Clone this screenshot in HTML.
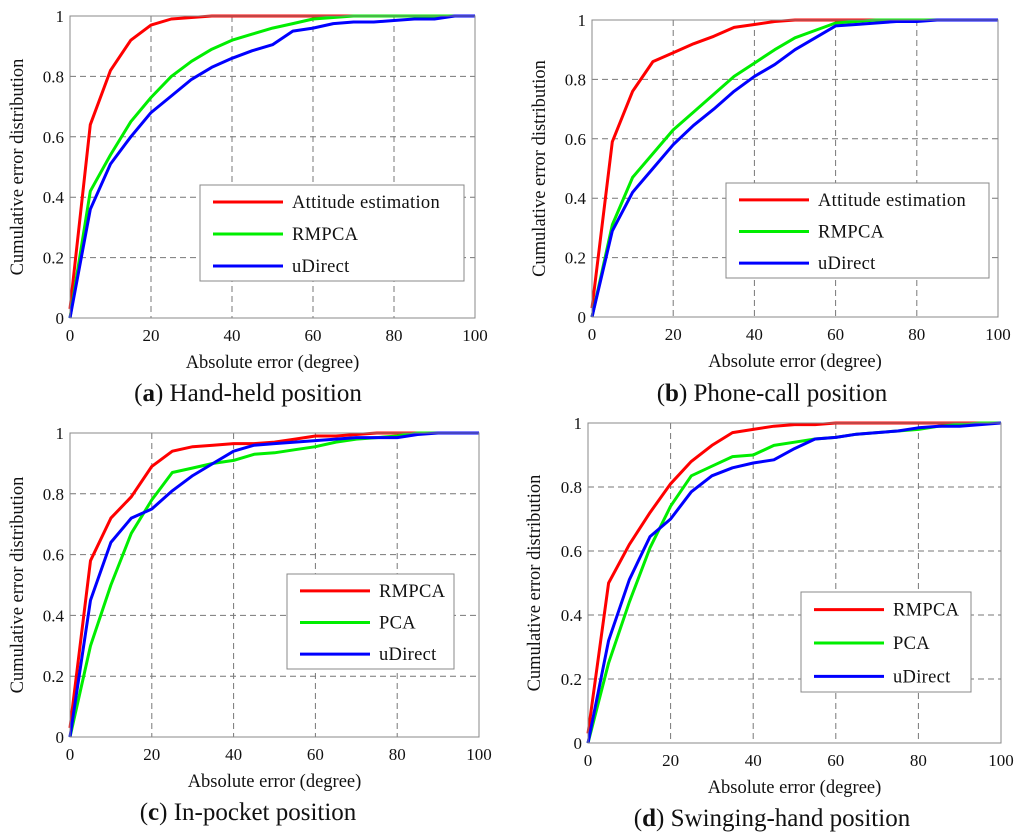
<!DOCTYPE html>
<html><head><meta charset="utf-8"><style>
html,body{margin:0;padding:0;background:#fff;width:1024px;height:840px;overflow:hidden}
svg{display:block;font-family:"Liberation Serif",serif}
</style></head><body>
<svg id="fig" width="1024" height="840"></svg>
<script>
const xCats=[0,5,10,15,20,25,30,35,40,45,50,55,60,65,70,75,80,85,90,95,100];
const xTicks=[0,20,40,60,80,100];
const yTicks=[0,0.2,0.4,0.6,0.8,1];
const yTickLabels=["0","0.2","0.4","0.6","0.8","1"];
const aAttitude=[0.03,0.64,0.82,0.92,0.97,0.99,0.995,1,1,1,1,1,1,1,1,1,1,1,1,1,1];
const aRMPCA=[0,0.42,0.54,0.65,0.73,0.80,0.85,0.89,0.92,0.94,0.96,0.975,0.99,0.995,1,1,1,1,1,1,1];
const aUDirect=[0,0.36,0.51,0.60,0.68,0.735,0.79,0.83,0.86,0.885,0.905,0.95,0.96,0.975,0.98,0.98,0.985,0.99,0.99,1,1];
const bAttitude=[0.03,0.59,0.76,0.86,0.89,0.92,0.945,0.975,0.985,0.995,1,1,1,1,1,1,1,1,1,1,1];
const bRMPCA=[0,0.31,0.47,0.55,0.63,0.69,0.75,0.81,0.855,0.90,0.94,0.965,0.99,0.995,1,1,1,1,1,1,1];
const bUDirect=[0,0.29,0.42,0.50,0.58,0.645,0.70,0.76,0.81,0.85,0.90,0.94,0.98,0.985,0.99,0.995,0.995,1,1,1,1];
const cRMPCA=[0.03,0.58,0.72,0.79,0.89,0.94,0.955,0.96,0.965,0.965,0.97,0.98,0.99,0.99,0.995,1,1,1,1,1,1];
const cPCA=[0,0.30,0.50,0.67,0.78,0.87,0.885,0.90,0.91,0.93,0.935,0.945,0.955,0.97,0.98,0.985,0.99,1,1,1,1];
const cUDirect=[0,0.45,0.64,0.72,0.75,0.81,0.86,0.90,0.94,0.96,0.965,0.97,0.975,0.98,0.985,0.985,0.985,0.995,1,1,1];
const dRMPCA=[0.03,0.50,0.62,0.72,0.81,0.88,0.93,0.97,0.98,0.99,0.995,0.995,1,1,1,1,1,1,1,1,1];
const dPCA=[0,0.25,0.44,0.61,0.74,0.835,0.865,0.895,0.90,0.93,0.94,0.95,0.955,0.965,0.97,0.975,0.98,0.99,0.995,1,1];
const dUDirect=[0,0.32,0.51,0.645,0.70,0.785,0.835,0.86,0.875,0.885,0.92,0.95,0.955,0.965,0.97,0.975,0.985,0.99,0.99,0.995,1];

const NS="http://www.w3.org/2000/svg";
const svg=document.getElementById('fig');
function mk(tag,attrs,parent,text){const e=document.createElementNS(NS,tag);for(const k in attrs)e.setAttribute(k,attrs[k]);if(text!==undefined)e.textContent=text;(parent||svg).appendChild(e);return e;}

const panels=[
 {id:'a',x0:70,x1:475,y1:16,y0:318,leg:[200,185,464,281],cap:'Hand-held position',capY:401,capX:248,ytx:17,
  series:[['Attitude estimation',aAttitude,'#ff0000'],['RMPCA',aRMPCA,'#00ee00'],['uDirect',aUDirect,'#0000ff']]},
 {id:'b',x0:592,x1:998,y1:20,y0:317,leg:[726,183,989,278],cap:'Phone-call position',capY:401,capX:772,ytx:539,
  series:[['Attitude estimation',bAttitude,'#ff0000'],['RMPCA',bRMPCA,'#00ee00'],['uDirect',bUDirect,'#0000ff']]},
 {id:'c',x0:70,x1:479,y1:433,y0:737,leg:[287,574,454,669],cap:'In-pocket position',capY:820,capX:248,ytx:17,
  series:[['RMPCA',cRMPCA,'#ff0000'],['PCA',cPCA,'#00ee00'],['uDirect',cUDirect,'#0000ff']]},
 {id:'d',x0:588,x1:1001,y1:423,y0:743,leg:[801,592,971,692],cap:'Swinging-hand position',capY:826,capX:772,ytx:534,
  series:[['RMPCA',dRMPCA,'#ff0000'],['PCA',dPCA,'#00ee00'],['uDirect',dUDirect,'#0000ff']]}
];

panels.forEach(p=>{
 const g=mk('g',{});
 
 
 const X=v=>p.x0+(v/100)*(p.x1-p.x0);
 const Y=v=>p.y0-v*(p.y0-p.y1);
 xTicks.slice(1,-1).forEach(t=>{const l=mk('line',{x1:X(t),x2:X(t),y1:p.y1,y2:p.y0,stroke:'#777','stroke-width':1,'stroke-dasharray':'6,4'},g);
  });
 yTicks.slice(1,-1).forEach(t=>{const l=mk('line',{x1:p.x0,x2:p.x1,y1:Y(t),y2:Y(t),stroke:'#777','stroke-width':1,'stroke-dasharray':'6,4'},g);
  });
 p.series.forEach(s=>{
  const pts=xCats.map((c,i)=>X(c).toFixed(1)+','+Y(s[1][i]).toFixed(1)).join(' ');
  const pl=mk('polyline',{points:pts,fill:'none',stroke:s[2],'stroke-width':3,'stroke-linejoin':'round'},g);
  
  
 });
 const bx=mk('rect',{x:p.x0,y:p.y1,width:p.x1-p.x0,height:p.y0-p.y1,fill:'none',stroke:'#888','stroke-width':1},g);
 
 xTicks.forEach(t=>{const e=mk('text',{x:X(t),y:p.y0+23,'text-anchor':'middle','font-size':17,fill:'#111'},g,String(t));
  });
 yTicks.forEach((t,i)=>{const e=mk('text',{x:p.x0-6,y:Y(t)+6,'text-anchor':'end','font-size':17,fill:'#111'},g,yTickLabels[i]);
  });
 const xt=mk('text',{x:(p.x0+p.x1)/2,y:p.y0+50,'text-anchor':'middle','font-size':18.5,fill:'#111'},g,'Absolute error (degree)');
 
 const ym=(p.y0+p.y1)/2;
 const yt=mk('text',{x:p.ytx,y:ym,'text-anchor':'middle','font-size':18.5,fill:'#111',transform:`rotate(-90 ${p.ytx} ${ym})`,dy:6},g,'Cumulative error distribution');
 
 const L=p.leg;
 const lg=mk('g',{},g);
 
 mk('rect',{x:L[0],y:L[1],width:L[2]-L[0],height:L[3]-L[1],fill:'#fff',stroke:'#888','stroke-width':1},lg);
 const rowH=(L[3]-L[1])/3;
 p.series.forEach((s,i)=>{
  const cy=L[1]+rowH*(i+0.5)+1;
  const en=mk('g',{},lg);
  
  mk('line',{x1:L[0]+13,x2:L[0]+83,y1:cy,y2:cy,stroke:s[2],'stroke-width':3},en);
  mk('text',{x:L[0]+92,y:cy+6,'font-size':18.5,fill:'#111','letter-spacing':'0.3'},en,s[0]);
 });
 const cap=mk('text',{x:p.capX,y:p.capY,'text-anchor':'middle','font-size':25,fill:'#111'},g);
 
 mk('tspan',{},cap,'(');
 mk('tspan',{'font-weight':'bold'},cap,p.id);
 mk('tspan',{},cap,') '+p.cap);
});
</script>
</body></html>
